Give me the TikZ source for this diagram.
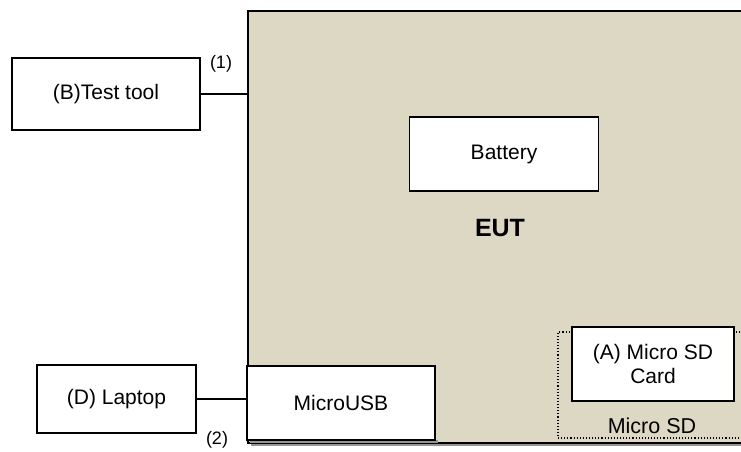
\documentclass[tikz,border=0pt]{standalone}
\usepackage{fontspec}
\setmainfont{Liberation Sans}
\usepackage{xcolor}
\usetikzlibrary{positioning, calc, fit}

\definecolor{eutfill}{RGB}{221,216,196}
\definecolor{shadowgray}{RGB}{150,150,150}

\begin{document}
\begin{tikzpicture}[
        x=1pt, y=-1pt,
        % Styles
        unit/.style={
            rectangle, draw=black, line width=1.6pt,
            fill=white, inner sep=0pt,
            align=center, font=\fontsize{21}{24}\selectfont
        },
        board/.style={
            rectangle, draw=black, line width=1.4pt,
            fill=eutfill, inner sep=0pt
        },
        slot/.style={
            rectangle, draw=black, dotted, line width=1.1pt, inner sep=0pt
        },
        tag/.style={font=\fontsize{18}{21}\selectfont, inner sep=0pt},
        line/.style={draw=black, line width=1.2pt}
    ]
        \useasboundingbox (0,0) rectangle (741,452);

        % EUT board (runs out of the picture on the right)
        \fill[shadowgray] (251,443) rectangle (765,446);
        \node[board, minimum width=512pt, minimum height=432pt] (eut) at (504,227) {};
        \node[font=\fontsize{25}{28}\selectfont\bfseries] (eutlabel) at (500,228) {EUT};

        % Parts inside the EUT
        \node[unit, minimum width=189pt, minimum height=74pt] (battery) at (504,154) {Battery};
        \node[slot, minimum width=190pt, minimum height=106pt] (sdslot) at (653,385) {};
        \node[tag, font=\fontsize{21.5}{24}\selectfont] (sdlabel) at (652,426) {Micro SD};
        \node[unit, minimum width=162pt, minimum height=74pt] (sdcard) at (653,364) {(A) Micro SD\\Card};
        \fill[shadowgray] (250,440) rectangle (438,443);
        \node[unit, minimum width=188pt, minimum height=74pt] (microusb) at (341,403) {MicroUSB};

        % Support equipment
        \node[unit, minimum width=188pt, minimum height=72pt] (testtool) at (106,94) {(B)Test tool};
        \node[unit, minimum width=159pt, minimum height=68pt] (laptop) at (116.5,399) {(D) Laptop};

        % Cables
        \draw[line] (testtool.east) -- (testtool.east -| eut.west);
        \draw[line] (laptop.east) -- (laptop.east -| microusb.west);
        \node[tag] (cable1) at (221,64) {(1)};
        \node[tag] (cable2) at (217,440) {(2)};

    \end{tikzpicture}
\end{document}
